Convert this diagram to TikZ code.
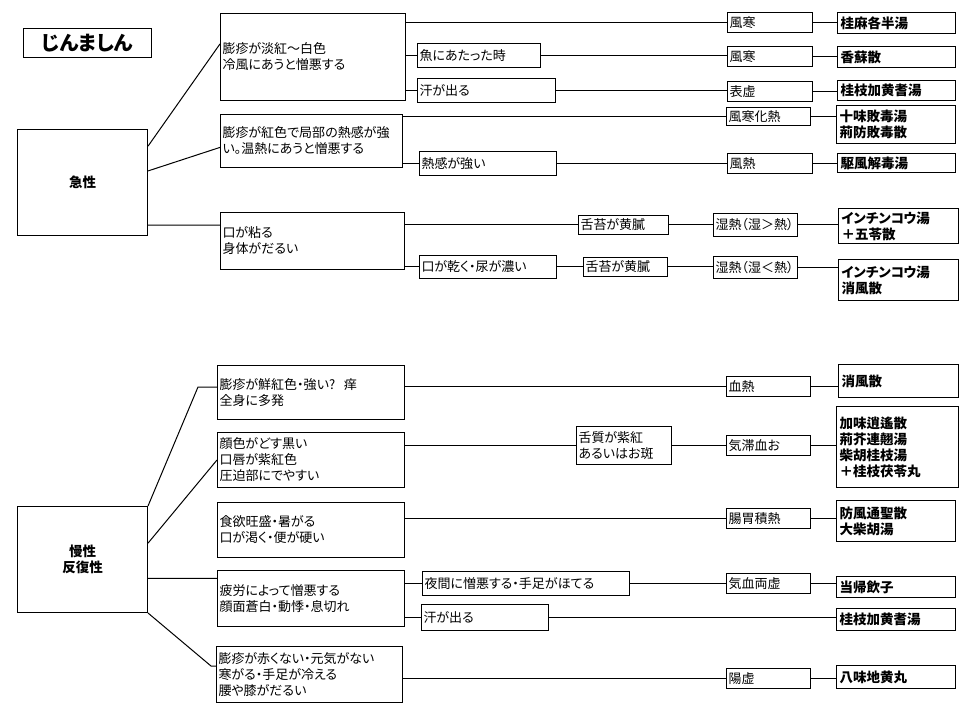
\documentclass[tikz,border=0pt]{standalone}
\usepackage{fontspec}
\setmainfont[RawFeature=+palt]{Noto Sans CJK JP}
\usepackage{tikz}

\begin{document}
\begin{tikzpicture}[x=1pt, y=-1pt]
		\tikzstyle{box}=[draw, line width=1pt, anchor=north west, align=left, inner xsep=2pt, inner ysep=0pt, font=\fontsize{13}{16}\selectfont]
		\tikzstyle{rx}=[box, inner xsep=3pt, font=\fontsize{13.5}{16}\selectfont\bfseries]
		\tikzstyle{head}=[draw, line width=1pt, anchor=north west, align=center, inner sep=0pt, font=\fontsize{13.5}{16}\selectfont\bfseries]
		\tikzstyle{link}=[line width=1pt]
		\useasboundingbox (0,0) rectangle (979,708);
		\node[head, minimum width=128, minimum height=29, font=\fontsize{20}{22}\selectfont\bfseries] (title) at (23,28) {じんましん};
		\node[head, minimum width=130, minimum height=106] (acute) at (17,129) {急性};
		\node[head, minimum width=130, minimum height=106] (chronic) at (17,506) {慢性\\反復性};
		% acute
		\node[box, text width=181, minimum height=87] (a1) at (220,13) {膨疹が淡紅～白色\\冷風にあうと憎悪する};
		\node[box, text width=119, minimum height=24] (a1b) at (417,43) {魚にあたった時};
		\node[box, text width=134, minimum height=24] (a1c) at (417,78) {汗が出る};
		\node[box, text width=178, minimum height=53] (a2) at (220,114) {膨疹が紅色で局部の熱感が強\\い。温熱にあうと憎悪する};
		\node[box, text width=133, minimum height=24] (a2b) at (419,151) {熱感が強い};
		\node[box, text width=180, minimum height=57] (a3) at (220,212) {口が粘る\\身体がだるい};
		\node[box, text width=133, minimum height=23] (a3b) at (419,255) {口が乾く・尿が濃い};
		\node[box, text width=86, minimum height=19] (t1) at (578,215) {舌苔が黄膩};
		\node[box, text width=80, minimum height=19] (t2) at (583,257) {舌苔が黄膩};
		\node[box, text width=81, minimum height=20] (p1) at (727,12) {風寒};
		\node[box, text width=81, minimum height=20] (p2) at (727,46) {風寒};
		\node[box, text width=81, minimum height=20] (p3) at (727,81) {表虚};
		\node[box, text width=80, minimum height=18] (p4) at (726,107) {風寒化熱};
		\node[box, text width=81, minimum height=20] (p5) at (727,153) {風熱};
		\node[box, text width=80, minimum height=23] (p6) at (713,213) {湿熱（湿＞熱）};
		\node[box, text width=80, minimum height=22] (p7) at (713,256) {湿熱（湿＜熱）};
		\node[rx, text width=112, minimum height=21] (f1) at (837,12) {桂麻各半湯};
		\node[rx, text width=112, minimum height=21] (f2) at (837,46) {香蘇散};
		\node[rx, text width=112, minimum height=20] (f3) at (837,80) {桂枝加黄耆湯};
		\node[rx, text width=113, minimum height=38] (f4) at (836,105) {十味敗毒湯\\荊防敗毒散};
		\node[rx, text width=112, minimum height=19] (f5) at (837,153) {駆風解毒湯};
		\node[rx, text width=114, minimum height=35] (f6) at (838,208) {インチンコウ湯\\＋五苓散};
		\node[rx, text width=114, minimum height=41] (f7) at (838,259) {インチンコウ湯\\消風散};
		% chronic
		\node[box, text width=183, minimum height=54] (b1) at (217,365) {膨疹が鮮紅色・強い?\ \ 痒\\全身に多発};
		\node[box, text width=183, minimum height=55] (b2) at (217,432) {顔色がどす黒い\\口唇が紫紅色\\圧迫部にでやすい};
		\node[box, text width=183, minimum height=55] (b3) at (217,502) {食欲旺盛・暑がる\\口が渇く・便が硬い};
		\node[box, text width=183, minimum height=56] (b4) at (217,570) {疲労によって憎悪する\\顔面蒼白・動悸・息切れ};
		\node[box, text width=182, minimum height=56] (b5) at (216,646) {膨疹が赤くない・元気がない\\寒がる・手足が冷える\\腰や膝がだるい};
		\node[box, text width=203, minimum height=24] (b4a) at (422,571) {夜間に憎悪する・手足がほてる};
		\node[box, text width=123, minimum height=26] (b4b) at (421,604) {汗が出る};
		\node[box, text width=91, minimum height=38] (s1) at (576,426) {舌質が紫紅\\あるいはお斑};
		\node[box, text width=80, minimum height=20] (q1) at (726,376) {血熱};
		\node[box, text width=80, minimum height=20] (q2) at (726,435) {気滞血お};
		\node[box, text width=80, minimum height=20] (q3) at (726,508) {腸胃積熱};
		\node[box, text width=80, minimum height=20] (q4) at (726,573) {気血両虚};
		\node[box, text width=80, minimum height=20] (q5) at (726,668) {陽虚};
		\node[rx, text width=114, minimum height=33] (g1) at (838,364) {消風散};
		\node[rx, text width=116, minimum height=81] (g2) at (836,406) {加味逍遙散\\荊芥連翹湯\\柴胡桂枝湯\\＋桂枝茯苓丸};
		\node[rx, text width=113, minimum height=41] (g3) at (836,500) {防風通聖散\\大柴胡湯};
		\node[rx, text width=113, minimum height=21] (g4) at (836,576) {当帰飲子};
		\node[rx, text width=113, minimum height=22] (g5) at (836,608) {桂枝加黄耆湯};
		\node[rx, text width=113, minimum height=23] (g6) at (836,665) {八味地黄丸};
		\coordinate (k1) at (198,387);
		\coordinate (k4) at (211,666);
		\draw[link] (acute.29) -- (a1.172) (acute.10) -- (a2.184)
		            (acute.-33) -- (acute.-33 -| a3.west);
		\draw[link] (a1.east |- p1.west) -- (p1.west)
		            (a1.east |- a1b.west) -- (a1b.west)
		            (a1.east |- a1c.west) -- (a1c.west)
		            (a1b.east) -- (a1b.east -| p2.west)
		            (a1c.east) -- (a1c.east -| p3.west)
		            (a2.east |- p4.west) -- (p4.west)
		            (a2.east |- a2b.west) -- (a2b.west)
		            (a2b.east) -- (a2b.east -| p5.west)
		            (a3.east |- t1.west) -- (t1.west)
		            (a3.east |- a3b.west) -- (a3b.west)
		            (t1.east) -- (t1.east -| p6.west)
		            (a3b.east) -- (a3b.east -| t2.west)
		            (t2.east) -- (t2.east -| p7.west);
		\draw[link] (p1.east) -- (p1.east -| f1.west) (p2.east) -- (p2.east -| f2.west)
		            (p3.east) -- (p3.east -| f3.west) (p4.east) -- (p4.east -| f4.west)
		            (p5.east) -- (p5.east -| f5.west) (p6.east) -- (p6.east -| f6.west)
		            (p7.east) -- (p7.east -| f7.west);
		\draw[link] (chronic.north east) -- (k1) -- (k1 -| b1.west)
		            (chronic.14) -- (b2.west)
		            (chronic.-16) -- (chronic.-16 -| b4.west)
		            (chronic.south east) -- (k4) -- (k4 -| b5.west);
		\draw[link] (b1.east |- q1.west) -- (q1.west)
		            (b2.east |- s1.west) -- (s1.west)
		            (s1.east) -- (s1.east -| q2.west)
		            (b3.east |- q3.west) -- (q3.west)
		            (b4.east |- b4a.west) -- (b4a.west)
		            (b4a.east) -- (b4a.east -| q4.west)
		            (b4.east |- b4b.west) -- (b4b.west)
		            (b4b.east) -- (b4b.east -| g5.west)
		            (b5.east |- q5.west) -- (q5.west);
		\draw[link] (q1.east) -- (q1.east -| g1.west) (q2.east) -- (q2.east -| g2.west)
		            (q3.east) -- (q3.east -| g3.west) (q4.east) -- (q4.east -| g4.west)
		            (q5.east) -- (q5.east -| g6.west);
	\end{tikzpicture}
\end{document}
